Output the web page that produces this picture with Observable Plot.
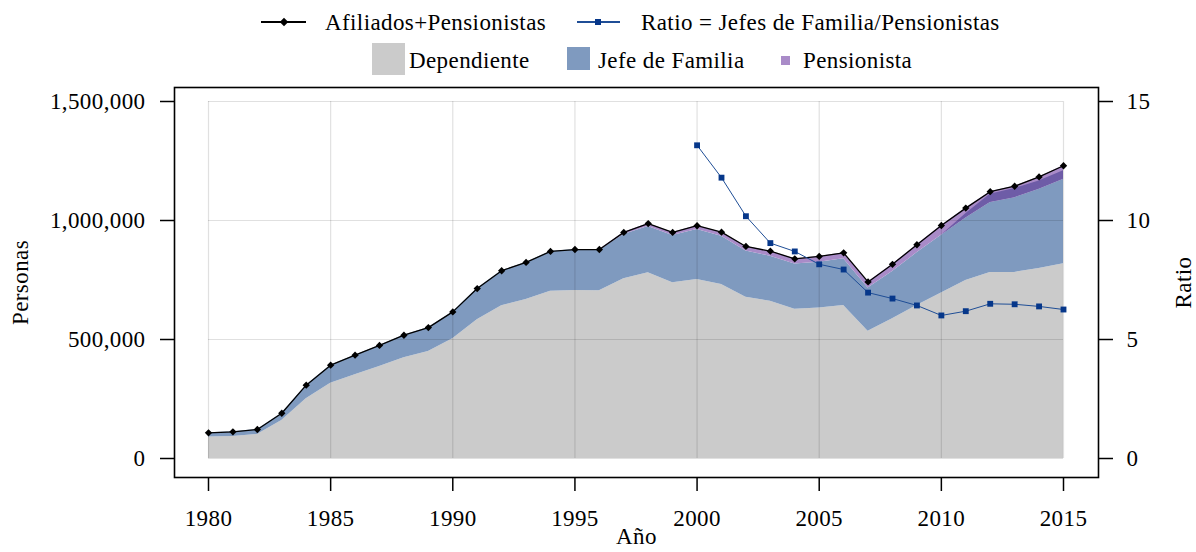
<!DOCTYPE html>
<html><head><meta charset="utf-8">
<script src="https://cdn.jsdelivr.net/npm/d3@7"></script>
<script src="https://cdn.jsdelivr.net/npm/@observablehq/plot@0.6"></script>
<style>
body{margin:0;background:#fff;font-family:"Liberation Serif",serif;}
#legend{position:relative;width:1196px;height:80px;font-size:23px;letter-spacing:0.4px;color:#000;}
.it{position:absolute;white-space:nowrap;line-height:1;transform:translateY(-50%);}
.k{position:absolute;}
svg text{letter-spacing:0.4px;}
</style></head><body>
<div id="legend"></div>
<div id="chart"></div>
<script>
// ---- data ----
const years = [1980,1981,1982,1983,1984,1985,1986,1987,1988,1989,1990,1991,1992,1993,1994,1995,1996,1997,1998,1999,2000,2001,2002,2003,2004,2005,2006,2007,2008,2009,2010,2011,2012,2013,2014,2015];
const dependiente = [90000,92000,101000,160000,251000,316000,352000,387000,423000,450000,503000,583000,642000,668000,703000,706000,705000,755000,780000,738000,752000,731000,678000,661000,627000,632000,643000,535000,587000,643000,695000,748000,782000,782000,798000,818000];
const jefeFamilia = [18000,20000,21000,30000,57000,76000,82000,88000,95000,100000,113000,131000,147000,156000,167000,172000,170000,186000,195000,199000,210000,203000,194000,189000,190000,193000,196000,181000,199000,221000,243000,262000,294000,314000,333000,355000];
const pensionista = [0,0,0,0,0,0,0,0,0,0,0,0,0,0,0,0,3000,9000,12000,13000,16000,17000,19000,21000,22000,24000,25000,26000,30000,34000,41000,42000,45000,48000,52000,57000];
const pensionistaSolapada = [null,null,null,null,null,null,null,null,null,null,null,null,null,null,null,null,null,null,null,null,null,null,null,null,null,null,null,null,null,null,0,18000,34000,38000,35000,36000];
const afiliadosPensionistas = [108000,112000,122000,190000,308000,392000,434000,475000,518000,550000,616000,714000,789000,824000,870000,878000,878000,950000,987000,950000,978000,951000,891000,871000,839000,849000,864000,742000,816000,898000,979000,1052000,1121000,1144000,1183000,1230000];
const ratio = [null,null,null,null,null,null,null,null,null,null,null,null,null,null,null,null,null,null,null,null,13.16,11.8,10.18,9.05,8.70,8.16,7.94,6.97,6.72,6.43,6.01,6.19,6.50,6.48,6.39,6.26];
const yTicks = [0,500000,1000000,1500000];
const xTicks = [1980,1985,1990,1995,2000,2005,2010,2015];
const ratioScale = 100000; // 15 on the right axis == 1,500,000 on the left

const rows = years.map((year,i)=>({year, dep:dependiente[i], jefe:jefeFamilia[i], pens:pensionista[i], sol:pensionistaSolapada[i], total:afiliadosPensionistas[i], ratio:ratio[i]}));
const solRows = rows.filter(d=>d.sol!=null);
const ratioRows = rows.filter(d=>d.ratio!=null);

const C = {dep:"#cbcbcb", jefe:"#7f9abf", pens:"#a98bc8", sol:"#6e5ca7", ratio:"#1f4e96", ratioDot:"#06378a"};

// ---- legend ----
const lg = document.getElementById("legend");
function add(html){lg.insertAdjacentHTML("beforeend",html);}
add(`<div class="k" style="left:261px;top:21px;width:45px;height:1.5px;background:#000"></div>`);
add(`<div class="k" style="left:281px;top:18.5px;width:6px;height:6px;background:#000;transform:rotate(45deg)"></div>`);
add(`<div class="it" style="left:325px;top:22px">Afiliados+Pensionistas</div>`);
add(`<div class="k" style="left:577px;top:21px;width:43px;height:1.5px;background:${C.ratio}"></div>`);
add(`<div class="k" style="left:595px;top:18.5px;width:6px;height:6px;background:${C.ratioDot}"></div>`);
add(`<div class="it" style="left:641px;top:22px">Ratio = Jefes de Familia/Pensionistas</div>`);
add(`<div class="k" style="left:372px;top:43px;width:33px;height:32px;background:${C.dep}"></div>`);
add(`<div class="it" style="left:409px;top:60px">Dependiente</div>`);
add(`<div class="k" style="left:567px;top:47px;width:23px;height:23px;background:${C.jefe}"></div>`);
add(`<div class="it" style="left:598px;top:60px">Jefe de Familia</div>`);
add(`<div class="k" style="left:781px;top:56px;width:9px;height:9px;background:${C.pens}"></div>`);
add(`<div class="it" style="left:803px;top:60px">Pensionista</div>`);

// ---- chart ----
const gridCol = {stroke:"#000", strokeOpacity:0.12, strokeWidth:1.2};
const chart = Plot.plot({
  width:1196, height:472,
  marginLeft:174, marginRight:98, marginTop:7, marginBottom:75,
  style:{fontFamily:"Liberation Serif, serif", fontSize:"23px", background:"#fff", color:"#000"},
  x:{domain:[1980,2015], insetLeft:34, insetRight:35},
  y:{domain:[0,1500000], insetTop:14, insetBottom:19},
  marks:[
    Plot.areaY(rows,{x:"year", y1:0, y2:"dep", fill:C.dep}),
    Plot.areaY(rows,{x:"year", y1:"dep", y2:d=>d.dep+d.jefe, fill:C.jefe}),
    Plot.areaY(rows,{x:"year", y1:d=>d.dep+d.jefe, y2:d=>d.dep+d.jefe+d.pens, fill:C.pens}),
    Plot.areaY(solRows,{x:"year", y1:d=>d.dep+d.jefe, y2:d=>d.dep+d.jefe+d.sol, fill:C.sol}),
    Plot.ruleY(yTicks,{x1:1980, x2:2015, ...gridCol}),
    Plot.ruleX(xTicks,{y1:0, y2:1500000, ...gridCol}),
    Plot.lineY(rows,{x:"year", y:"total", stroke:"#000", strokeWidth:1.3}),
    Plot.dot(rows,{x:"year", y:"total", symbol:"diamond2", fill:"#000", stroke:null, r:3.3}),
    Plot.lineY(ratioRows,{x:"year", y:d=>d.ratio*ratioScale, stroke:C.ratio, strokeWidth:1}),
    Plot.dot(ratioRows,{x:"year", y:d=>d.ratio*ratioScale, symbol:"square", fill:C.ratioDot, stroke:null, r:3.3}),
    Plot.frame({stroke:"#000", strokeWidth:1.6}),
    Plot.axisY(yTicks,{anchor:"left", tickSize:14, tickPadding:15, tickFormat:d3.format(","), strokeWidth:1.5, label:null, fontSize:23}),
    Plot.axisY(yTicks,{anchor:"right", tickSize:14, tickPadding:14, tickFormat:d=>String(d/ratioScale), strokeWidth:1.5, label:null, fontSize:23}),
    Plot.axisX(xTicks,{anchor:"bottom", tickSize:14, tickPadding:18, tickFormat:d=>String(d), strokeWidth:1.5, label:null, fontSize:23}),
    Plot.text(["Personas"],{text:d=>d, frameAnchor:"left", dx:-154, rotate:-90, textAnchor:"middle", lineAnchor:"middle", fontSize:23}),
    Plot.text(["Ratio"],{text:d=>d, frameAnchor:"right", dx:85, rotate:-90, textAnchor:"middle", lineAnchor:"middle", fontSize:23}),
    Plot.text(["Año"],{text:d=>d, frameAnchor:"bottom", dy:59, textAnchor:"middle", lineAnchor:"middle", fontSize:23})
  ]
});
document.getElementById("chart").appendChild(chart);
</script>
</body></html>
